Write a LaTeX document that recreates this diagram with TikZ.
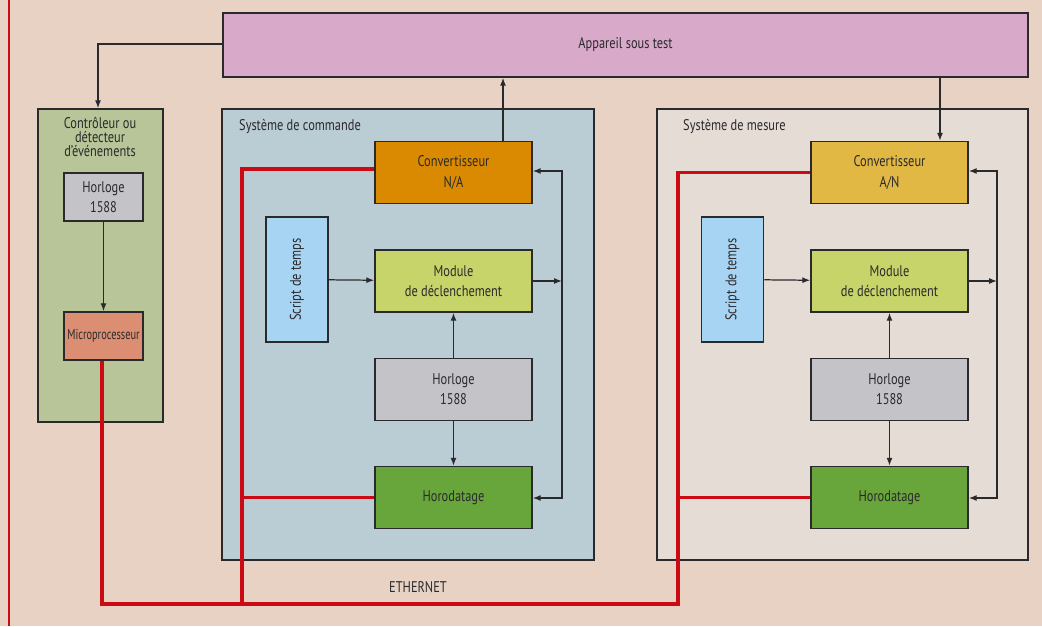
\documentclass[tikz,border=0pt]{standalone}
\usepackage{fontspec}
\setmainfont{PT Sans}[FakeStretch=0.8]
\usepackage{xcolor}
\usepackage{tikz}
\usetikzlibrary{arrows.meta,positioning,calc}

\definecolor{fondpeche}{HTML}{E8D2C4}
\definecolor{appareil}{HTML}{D8A9C9}
\definecolor{controleur}{HTML}{B8C598}
\definecolor{commande}{HTML}{BACCD4}
\definecolor{mesure}{HTML}{E6DCD6}
\definecolor{horloge}{HTML}{C4C4C8}
\definecolor{micro}{HTML}{DB8E72}
\definecolor{convna}{HTML}{DA8A00}
\definecolor{convan}{HTML}{E2B845}
\definecolor{module}{HTML}{C6D46A}
\definecolor{horodatage}{HTML}{68A53A}
\definecolor{script}{HTML}{A8D4F4}
\definecolor{reseau}{HTML}{CC0A14}
\definecolor{trait}{HTML}{2A2A2C}

\tikzset{
  box/.style={draw=trait,line width=0.9pt,text=trait,align=center,inner sep=0pt,font=\fontsize{8.8}{11.5}\selectfont},
  blk/.style={box,minimum width=3.14cm,minimum height=1.24cm},
  petit/.style={box,minimum width=1.58cm,minimum height=0.96cm},
  zone/.style={draw=trait,line width=0.9pt,inner sep=0pt},
  fleche/.style={draw=trait,line width=0.7pt,-{Latex[length=4.5pt,width=3.4pt]}},
  ethernet/.style={draw=reseau,line width=1.8pt},
  titre/.style={text=trait,font=\fontsize{8.8}{8}\selectfont}
}

\begin{document}
\begin{tikzpicture}[x=0.02cm,y=-0.02cm]
    \fill [fondpeche] (0,0) rectangle (1042,626);
    \useasboundingbox (0,0) rectangle (1042,626);
    \draw [reseau,line width=1pt] (9,0) -- (9,626);

    % zones
    \node [zone,fill=appareil,minimum width=16.1cm,minimum height=1.28cm] (app) at (625.5,45) {};
    \node [titre] at (app) {Appareil sous test};
    \node [zone,fill=controleur,minimum width=2.5cm,minimum height=6.26cm] (ctrl) at (100.5,265.5) {};
    \node [titre,align=center,anchor=north] (ctrltitre) at (100,111) {Contrôleur ou\\détecteur\\d'événements};
    \node [zone,fill=commande,minimum width=7.44cm,minimum height=9.02cm] (cmd) at (408,334.5) {};
    \node [titre,anchor=west] at (233,127) {Système de commande};
    \node [zone,fill=mesure,minimum width=7.42cm,minimum height=9.02cm] (mes) at (842.5,334.5) {};
    \node [titre,anchor=west] at (677,127) {Système de mesure};

    % controleur
    \node [petit,fill=horloge] (hl) at (103.5,197) {Horloge\\1588};
    \node [petit,fill=micro,font=\fontsize{8.2}{10}\selectfont\addfontfeature{FakeStretch=0.72}] (mp) at (103.5,336) {Microprocesseur};

    % systeme de commande
    \node [blk,fill=convna] (na) at (453.5,172.5) {Convertisseur\\N/A};
    \node [blk,fill=module] (modc) at (453.5,281) {Module\\de déclenchement};
    \node [blk,fill=horloge] (hc) at (453.5,389.5) {Horloge\\1588};
    \node [blk,fill=horodatage] (tsc) at (453.5,497.5) {Horodatage};
    \node [box,fill=script,minimum width=1.24cm,minimum height=2.5cm] (scc) at (297,279.5) {};
    \node [titre,rotate=90] at (scc) {Script de temps};

    % systeme de mesure
    \node [blk,fill=convan] (an) at (889.5,172.5) {Convertisseur\\A/N};
    \node [blk,fill=module] (modm) at (889.5,281) {Module\\de déclenchement};
    \node [blk,fill=horloge] (hm) at (889.5,389.5) {Horloge\\1588};
    \node [blk,fill=horodatage] (tsm) at (889.5,497.5) {Horodatage};
    \node [box,fill=script,minimum width=1.24cm,minimum height=2.5cm] (scm) at (732.5,279.5) {};
    \node [titre,rotate=90] at (scm) {Script de temps};

    % liaisons avec l'appareil
    \coordinate (coude) at (98,44);
    \draw [fleche] (app.west |- coude) -- (coude) -- (ctrl.north -| coude);
    \draw [fleche] (na.north -| 503,0) -- (app.south -| 503,0);
    \draw [fleche] (app.south -| 940,0) -- (an.north -| 940,0);
    \draw [fleche] (hl) -- (mp);

    % boucles internes
    \coordinate (busc) at (562,281);
    \coordinate (busm) at (997,281);
    \draw [fleche] (scc) -- (modc);
    \draw [fleche] (hc) -- (modc);
    \draw [fleche] (hc) -- (tsc);
    \draw [fleche] (modc) -- (busc);
    \draw [fleche] (busc |- 0,200) |- (na.east |- 0,171);
    \draw [fleche] (busc |- 0,171) -- (busc |- 0,498) -- (tsc.east |- 0,498);
    \draw [fleche] (scm) -- (modm);
    \draw [fleche] (hm) -- (modm);
    \draw [fleche] (hm) -- (tsm);
    \draw [fleche] (modm) -- (busm);
    \draw [fleche] (busm |- 0,200) |- (an.east |- 0,171);
    \draw [fleche] (busm |- 0,171) -- (busm |- 0,498) -- (tsm.east |- 0,498);

    % ethernet
    \coordinate (e1) at (102,604);
    \coordinate (e2) at (242,604);
    \coordinate (e3) at (678,604);
    \draw [ethernet] (mp.south -| e1) -- (e1) -- (e3) -- (e3 |- an.west) -- (an.west);
    \draw [ethernet] (e2) -- (e2 |- 0,169) -- (na.west |- 0,169);
    \draw [ethernet] (e2 |- tsc.west) -- (tsc.west);
    \draw [ethernet] (e3 |- tsm.west) -- (tsm.west);
    \node [titre] at (418,587) {ETHERNET};
\end{tikzpicture}
\end{document}
